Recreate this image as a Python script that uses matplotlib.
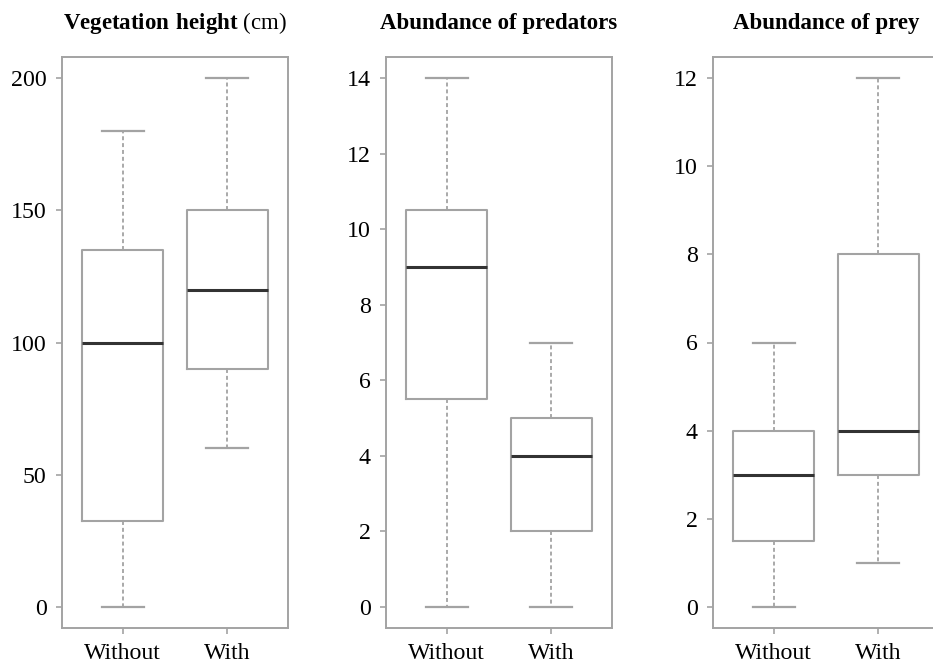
import matplotlib as mpl
mpl.use('agg')
import matplotlib.pyplot as plt

## group names
groups = ['Without', 'With']

## vegetation height (cm)
veg_med = [100, 120]
veg_q1 = [32.5, 90]
veg_q3 = [135, 150]
veg_lo = [0, 60]
veg_hi = [180, 200]

## abundance of predators
pred_med = [9, 4]
pred_q1 = [5.5, 2]
pred_q3 = [10.5, 5]
pred_lo = [0, 0]
pred_hi = [14, 7]

## abundance of prey
prey_med = [3, 4]
prey_q1 = [1.5, 3]
prey_q3 = [4, 8]
prey_lo = [0, 1]
prey_hi = [6, 12]

## y ticks per panel
veg_ticks = [0, 50, 100, 150, 200]
pred_ticks = [0, 2, 4, 6, 8, 10, 12, 14]
prey_ticks = [0, 2, 4, 6, 8, 10, 12]

plt.rcParams['font.family'] = ['Liberation Serif', 'DejaVu Serif']
plt.rcParams['mathtext.fontset'] = 'custom'
plt.rcParams['mathtext.rm'] = 'Liberation Serif'
plt.rcParams['mathtext.bf'] = 'Liberation Serif:bold'

grey = '#a3a3a3'
dark = '#333333'


def make_stats(med, q1, q3, lo, hi):
    out = []
    for i in range(len(groups)):
        out.append(dict(med=med[i], q1=q1[i], q3=q3[i],
                        whislo=lo[i], whishi=hi[i], fliers=[], label=groups[i]))
    return out


panels = [
    (make_stats(veg_med, veg_q1, veg_q3, veg_lo, veg_hi), veg_ticks, None),
    (make_stats(pred_med, pred_q1, pred_q3, pred_lo, pred_hi), pred_ticks, 'Abundance of predators'),
    (make_stats(prey_med, prey_q1, prey_q3, prey_lo, prey_hi), prey_ticks, 'Abundance of prey'),
]

fig = plt.figure(figsize=(9.33, 6.65), dpi=100)
lefts = [62 / 933, 386 / 933, 713 / 933]
bottom = 1 - 628 / 665
height = (628 - 57) / 665
width = 226 / 933

for k, (stats, ticks, title) in enumerate(panels):
    ax = fig.add_axes([lefts[k], bottom, width, height])
    ax.bxp(stats, widths=0.78, showfliers=False, patch_artist=False,
           boxprops=dict(color=grey, linewidth=1.5),
           whiskerprops=dict(color=grey, linewidth=1.3, linestyle=(0, (2.2, 1.6))),
           capprops=dict(color=grey, linewidth=1.6),
           medianprops=dict(color=dark, linewidth=2.2),
           capwidths=0.4)
    top = ticks[-1]
    ax.set_ylim(-0.04 * top, 1.04 * top)
    ax.set_xlim(0.42, 2.58)
    ax.set_yticks(ticks)
    ax.set_xticks([1, 2])
    ax.set_xticklabels(groups)
    for sp in ax.spines.values():
        sp.set_color(grey)
        sp.set_linewidth(1.4)
    ax.tick_params(axis='both', colors=grey, labelcolor='black', labelsize=17.2,
                   length=4, width=1.2, pad=7)
    if title is None:
        ax.set_title('$\\mathbf{Vegetation\\ height}$ (cm)', fontsize=16.5, pad=20)
    else:
        ax.set_title(title, fontsize=16.5, fontweight='bold', pad=20)

fig.savefig('out.png', dpi=100)
